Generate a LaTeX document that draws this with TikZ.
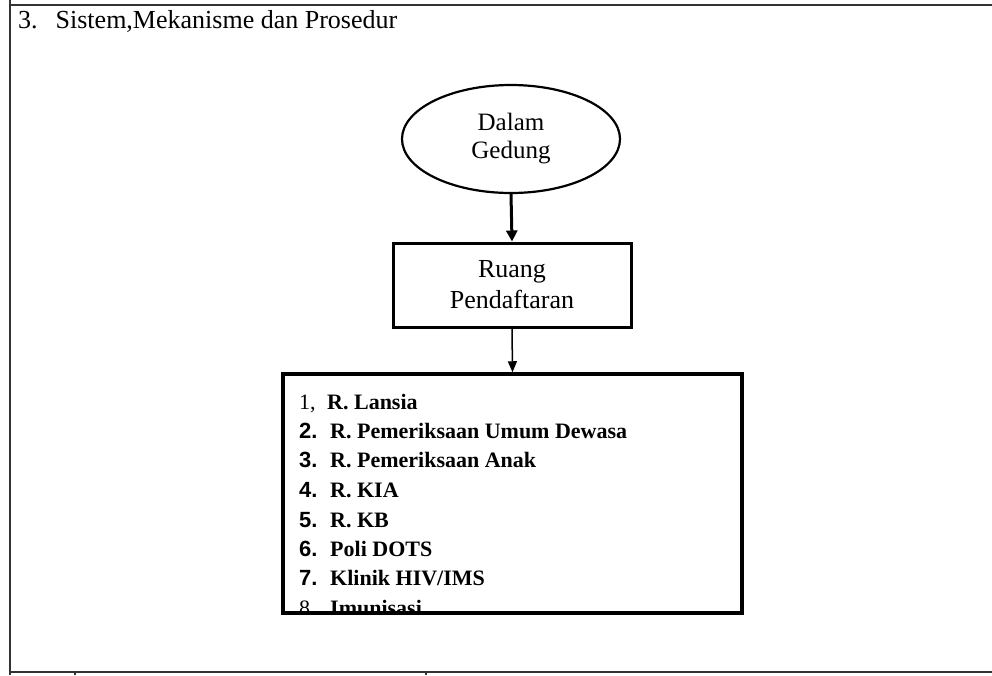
\documentclass[tikz,border=0pt]{standalone}
\usepackage{fontspec}
\setmainfont{Liberation Serif}
\newfontfamily\arialfont{Liberation Sans}
\usetikzlibrary{shapes.geometric,arrows.meta}
\tikzset{
  frameline/.style={draw=black!80, line width=1.8pt},
  thickbox/.style={draw=black, line width=3pt, rectangle, inner sep=0pt},
  ovalbox/.style={draw=black, line width=2.2pt, ellipse, inner sep=0pt, align=center,
    font=\fontsize{25}{28}\selectfont},
  boxtext/.style={align=center, font=\fontsize{26}{31}\selectfont},
  bigarrow/.style={line width=3pt, -{Triangle[length=11pt,width=11pt]}},
  smallarrow/.style={line width=1.5pt, -{Triangle[length=11pt,width=9pt]}},
  numtxt/.style={anchor=base west, inner sep=0pt, font=\fontsize{22}{26}\arialfont\bfseries},
  numreg/.style={anchor=base west, inner sep=0pt, font=\fontsize{22}{26}\selectfont},
  itemtxt/.style={anchor=base west, inner sep=0pt, font=\fontsize{22}{26}\selectfont\bfseries},
}
\begin{document}
\begin{tikzpicture}[x=1pt,y=-1pt]
\useasboundingbox (0,0) rectangle (992,675);
% outer frame
\coordinate (fTL) at (10,0);
\coordinate (fBL) at (10,675);
\coordinate (tL) at (10,5);
\coordinate (tR) at (992,5);
\coordinate (bL) at (10,672);
\coordinate (bR) at (992,672);
\draw[frameline] (fTL) -- (fBL);
\draw[frameline] (tL) -- (tR);
\draw[frameline] (bL) -- (bR);
\coordinate (k1a) at (75,672); \coordinate (k1b) at (75,675);
\coordinate (k2a) at (426,672); \coordinate (k2b) at (426,675);
\draw[frameline, line width=1.2pt] (k1a) -- (k1b);
\draw[frameline, line width=1.2pt] (k2a) -- (k2b);
% title
\node[anchor=base west, inner sep=0pt, font=\fontsize{26}{28}\selectfont] (title) at (18,28)
  {3.\hspace{18pt}Sistem,Mekanisme dan Prosedur};
% ellipse
\node[ovalbox, minimum width=218pt, minimum height=108pt] (dalam) at (511,139) {Dalam\\Gedung};
% registration box
\node[thickbox, minimum width=238pt, minimum height=84pt, boxtext] (ruang) at (512,285) {Ruang\\Pendaftaran};
% list box
\node[thickbox, line width=3.5pt, minimum width=459pt, minimum height=239pt] (list) at (512.5,493.5) {};
\draw[bigarrow] (dalam.south) -- (ruang.north);
\draw[smallarrow] (ruang.south) -- (list.north);
\begin{scope}
\clip (285,376) rectangle (740,611);
\node[numreg] (n1) at (299,409) {1,};
\node[itemtxt] (t1) at (327,409) {R. Lansia};
\node[numtxt] (n2) at (299,438) {2.};
\node[itemtxt] (t2) at (330,438) {R. Pemeriksaan Umum Dewasa};
\node[numtxt] (n3) at (299,467) {3.};
\node[itemtxt] (t3) at (330,467) {R. Pemeriksaan Anak};
\node[numtxt] (n4) at (299,497) {4.};
\node[itemtxt] (t4) at (330,497) {R. KIA};
\node[numtxt] (n5) at (299,527) {5.};
\node[itemtxt] (t5) at (330,527) {R. KB};
\node[numtxt] (n6) at (299,556) {6.};
\node[itemtxt] (t6) at (330,556) {Poli DOTS};
\node[numtxt] (n7) at (299,585) {7.};
\node[itemtxt] (t7) at (330,585) {Klinik HIV/IMS};
\node[numreg] (n8) at (299,615) {8.};
\node[itemtxt] (t8) at (330,615) {Imunisasi};
\end{scope}
\end{tikzpicture}
\end{document}
